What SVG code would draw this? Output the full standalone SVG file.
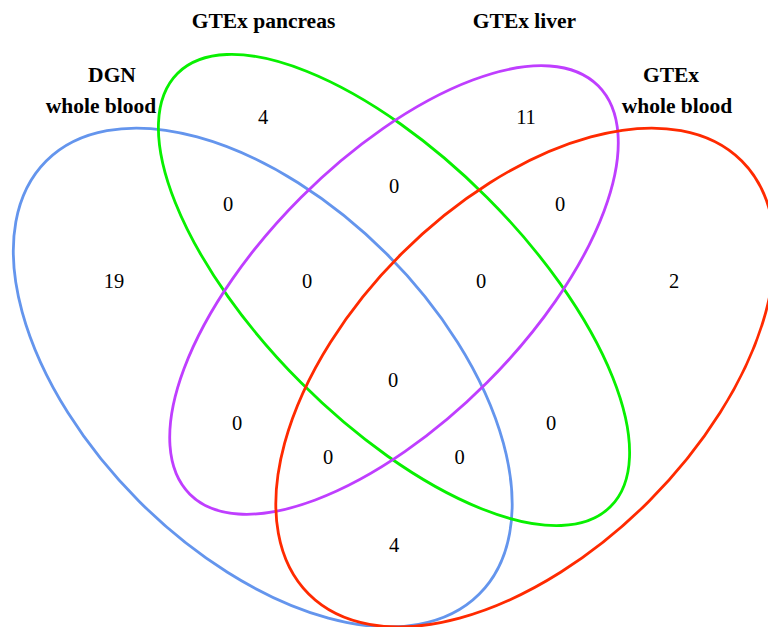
<svg xmlns="http://www.w3.org/2000/svg" width="768" height="627" viewBox="0 0 768 627">
<style>
.set{fill:none;stroke-width:2.8}
.lbl{font-family:"Liberation Serif","Times New Roman",serif;font-weight:bold;font-size:21.5px;fill:#000;text-anchor:middle}
.num{font-family:"Liberation Serif","Times New Roman",serif;font-size:20.5px;fill:#000;text-anchor:middle}
</style>
<rect width="768" height="627" fill="#fff"/>
<g id="set-dgn-whole-blood">
<ellipse class="set" stroke="#6495ED" cx="262.75" cy="377.5" rx="306.25" ry="175" transform="rotate(45 262.75 377.5)"/>
<text class="lbl" x="112" y="82">DGN</text>
<text class="lbl" x="101" y="113">whole blood</text>
</g>
<g id="set-gtex-pancreas">
<ellipse class="set" stroke="#08F000" cx="394" cy="290" rx="306.25" ry="131.25" transform="rotate(45 394 290)"/>
<text class="lbl" x="263.5" y="28">GTEx pancreas</text>
</g>
<g id="set-gtex-liver">
<ellipse class="set" stroke="#BF3EFF" cx="394" cy="290" rx="288.75" ry="131.25" transform="rotate(-45 394 290)"/>
<text class="lbl" x="524.5" y="28">GTEx liver</text>
</g>
<g id="set-gtex-whole-blood">
<ellipse class="set" stroke="#FF2A00" cx="525.25" cy="377.5" rx="306.25" ry="175" transform="rotate(-45 525.25 377.5)"/>
<text class="lbl" x="671" y="82">GTEx</text>
<text class="lbl" x="677" y="113">whole blood</text>
</g>
<g id="region-counts">
<text class="num" x="263" y="124">4</text>
<text class="num" x="526" y="124">11</text>
<text class="num" x="228" y="211">0</text>
<text class="num" x="394" y="193">0</text>
<text class="num" x="560" y="211">0</text>
<text class="num" x="114" y="288">19</text>
<text class="num" x="307" y="288">0</text>
<text class="num" x="481" y="288">0</text>
<text class="num" x="674" y="288">2</text>
<text class="num" x="393" y="387">0</text>
<text class="num" x="237" y="430">0</text>
<text class="num" x="551" y="430">0</text>
<text class="num" x="328" y="464">0</text>
<text class="num" x="459.5" y="464">0</text>
<text class="num" x="394" y="552">4</text>
</g>
</svg>
